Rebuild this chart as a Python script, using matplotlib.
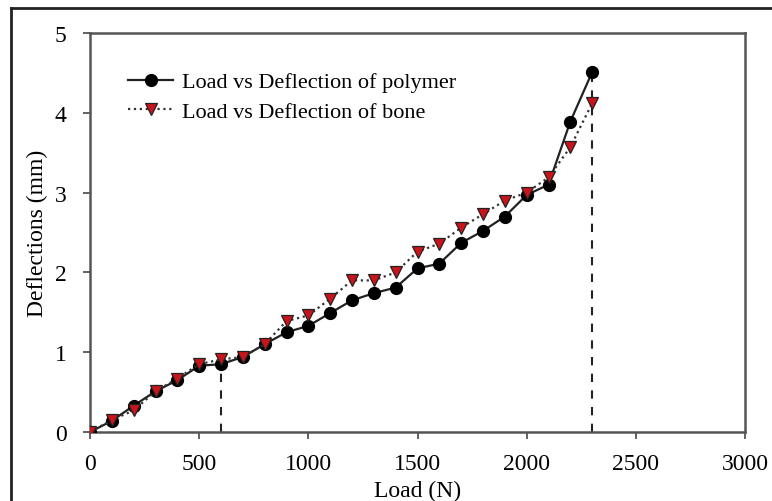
import matplotlib
matplotlib.use("Agg")
import matplotlib.pyplot as plt
from matplotlib.lines import Line2D

plt.rcParams['font.family'] = ['Liberation Serif', 'DejaVu Serif']

loads = [0, 100, 200, 300, 400, 500, 600, 700, 800, 900, 1000, 1100,
         1200, 1300, 1400, 1500, 1600, 1700, 1800, 1900, 2000, 2100, 2200, 2300]
polymer = [0.0, 0.14, 0.33, 0.51, 0.65, 0.83, 0.85, 0.94, 1.10, 1.25, 1.33, 1.49,
           1.65, 1.74, 1.81, 2.05, 2.11, 2.37, 2.52, 2.70, 2.97, 3.10, 3.89, 4.51]
bone = [0.0, 0.15, 0.27, 0.51, 0.67, 0.85, 0.91, 0.94, 1.10, 1.39, 1.46, 1.67,
        1.90, 1.90, 2.00, 2.26, 2.36, 2.56, 2.73, 2.90, 3.00, 3.19, 3.57, 4.12]
dashed_x = [600, 2300]
dashed_top = [0.85, 4.51]

xticks = [0, 500, 1000, 1500, 2000, 2500, 3000]
yticks = [0, 1, 2, 3, 4, 5]

fig = plt.figure(figsize=(7.72, 5.02), dpi=100)
ax = fig.add_axes([90/772, 1-433/502, (745-90)/772, (433-34)/502])

ax.plot(loads, polymer, '-', color='#222222', lw=1.6, marker='o', ms=8.5,
        mfc='black', mec='black', label='Load vs Deflection of polymer', zorder=3)
ax.plot(loads, bone, ':', color='#333333', lw=1.6, marker='v', ms=9,
        mfc='#c8141a', mec='#222222', mew=0.9, label='Load vs Deflection of bone', zorder=4)

for xv, yv in zip(dashed_x, dashed_top):
    ax.vlines(xv, 0, yv, colors='#222222', linestyles=(0, (4, 4)), lw=1.5, zorder=2)

ax.set_xlim(0, 3000)
ax.set_ylim(0, 5)
ax.set_xticks(xticks)
ax.set_yticks(yticks)
ax.tick_params(direction='out', length=5, width=1.3, color='#555555',
               labelsize=17)
ax.tick_params(axis='x', pad=10)
ax.tick_params(axis='y', pad=12)
for s in ax.spines.values():
    s.set_color('#555555')
    s.set_linewidth(1.8)

ax.set_xlabel('Load (N)', fontsize=17, labelpad=4)
ax.set_ylabel('Deflections (mm)', fontsize=17, labelpad=5)

ax.legend(loc='upper left', bbox_to_anchor=(0.045, 0.925), frameon=False,
          fontsize=16, handlelength=2.0, handletextpad=0.4, labelspacing=0.4,
          borderaxespad=0)

# outer border
fig.add_artist(Line2D([11/772, 11/772], [0, 1-9/502], transform=fig.transFigure,
                      color='#222222', lw=2))
fig.add_artist(Line2D([11/772, 1], [1-9/502, 1-9/502], transform=fig.transFigure,
                      color='#222222', lw=2))

fig.savefig('out.png', dpi=100)
